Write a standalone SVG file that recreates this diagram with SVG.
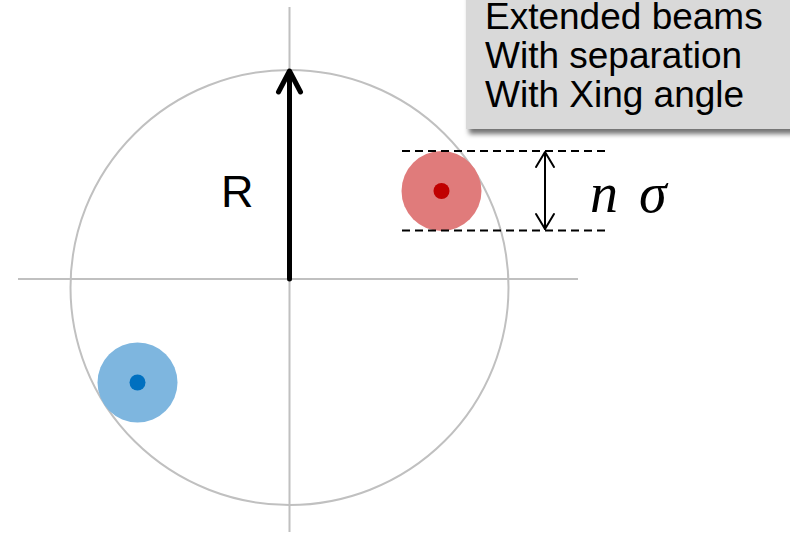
<svg xmlns="http://www.w3.org/2000/svg" width="790" height="533" viewBox="0 0 790 533">
<defs>
<style>
.axis{stroke:#C0C0C0;stroke-width:2;fill:none}
.lbl{font-family:"Liberation Sans",Arial,sans-serif;fill:#000}
.dash{stroke:#000;stroke-width:2;stroke-dasharray:8 5;fill:none}
.arr{stroke:#000;fill:none;stroke-linecap:round;stroke-linejoin:round}
</style>
<filter id="sh" x="-10%" y="-10%" width="130%" height="140%">
<feGaussianBlur in="SourceAlpha" stdDeviation="2.5"/>
<feOffset dx="3" dy="5" result="b"/>
<feFlood flood-color="#000" flood-opacity="0.55"/>
<feComposite in2="b" operator="in"/>
<feMerge><feMergeNode/><feMergeNode in="SourceGraphic"/></feMerge>
</filter>
</defs>
<rect width="790" height="533" fill="#fff"/>
<g id="axes">
<line class="axis" x1="289.5" y1="7" x2="289.5" y2="532"/>
<line class="axis" x1="18" y1="279" x2="578" y2="279"/>
<ellipse class="axis" cx="289.5" cy="287.5" rx="219" ry="217.5"/>
</g>
<g id="beam-red">
<circle cx="441.5" cy="191" r="40" fill="#E07B7B"/>
<circle cx="441.5" cy="191" r="8" fill="#C00000"/>
</g>
<g id="beam-blue">
<circle cx="137.5" cy="382.5" r="40" fill="#7EB6DF"/>
<circle cx="137.5" cy="382.5" r="8" fill="#0070C0"/>
</g>
<g id="connectors">
<line class="arr" x1="289.5" y1="279" x2="289.5" y2="72" stroke-width="5" stroke-linecap="butt"/>
<polyline class="arr" points="278.5,92 289.5,71 300.5,92" stroke-width="5"/>
<line class="dash" x1="402" y1="151" x2="610" y2="151"/>
<line class="dash" x1="402" y1="230.5" x2="610" y2="230.5"/>
<line class="arr" x1="545" y1="153" x2="545" y2="229" stroke-width="2"/>
<polyline class="arr" points="536,167 545,152 554,167" stroke-width="2"/>
<polyline class="arr" points="536,214 545,229 554,214" stroke-width="2"/>
</g>
<g id="label-R">
<text class="lbl" x="221" y="207" font-size="45">R</text>
</g>
<g id="label-nsigma">
<text x="590" y="211.5" font-family="'Liberation Serif','DejaVu Serif',serif" font-style="italic" font-size="56" fill="#000">n</text>
<text x="639" y="211.5" font-family="'Liberation Serif','DejaVu Serif',serif" font-style="italic" font-size="56" fill="#000">σ</text>
</g>
<g id="legend">
<rect x="466" y="-10" width="340" height="139" fill="#D9D9D9" filter="url(#sh)"/>
<text class="lbl" x="485" y="28.5" font-size="37">Extended beams</text>
<text class="lbl" x="485" y="67.5" font-size="37">With separation</text>
<text class="lbl" x="485" y="106.5" font-size="37">With Xing angle</text>
</g>
</svg>
